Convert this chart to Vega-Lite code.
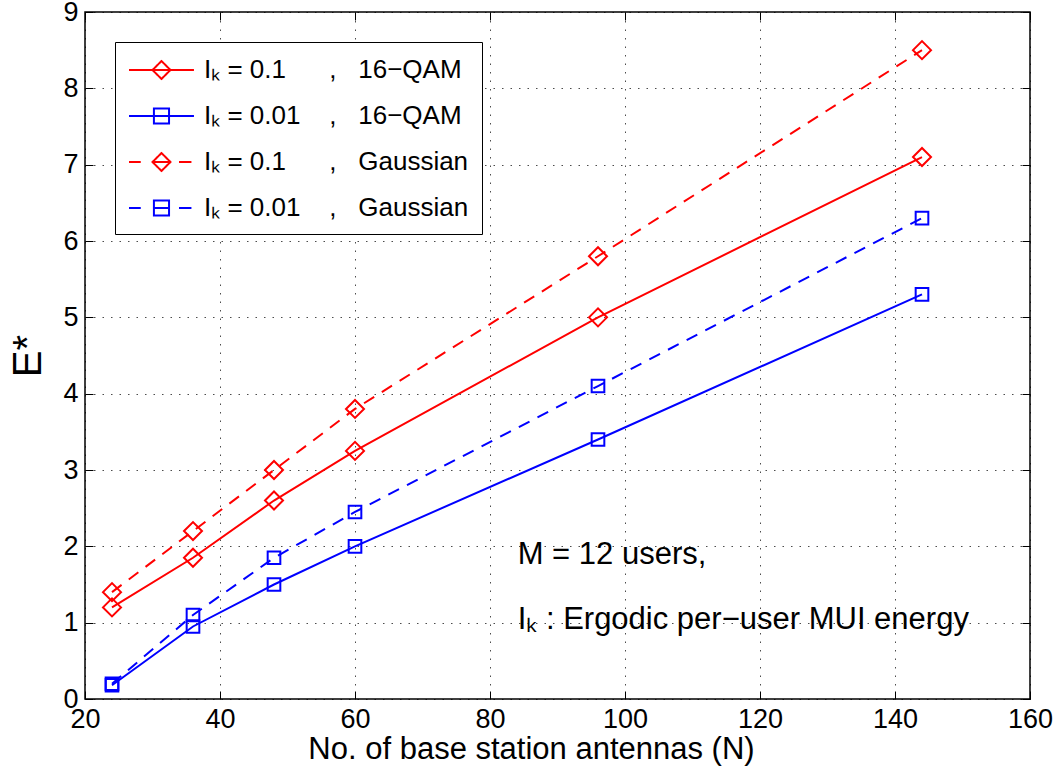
{
  "$schema": "https://vega.github.io/schema/vega-lite/v6.json",
  "width": 945,
  "height": 687,
  "autosize": {"type": "none"},
  "padding": {"left": 85, "top": 12, "right": 28, "bottom": 73},
  "background": "white",
  "config": {
    "font": "Liberation Sans",
    "view": {"stroke": "black", "strokeWidth": 1.5},
    "axis": {
      "labelFont": "Liberation Sans",
      "labelFontSize": 27,
      "labelColor": "black",
      "labelFlush": false,
      "titleFont": "Liberation Sans",
      "titleFontWeight": "normal",
      "titleColor": "black",
      "domain": false,
      "tickColor": "black",
      "tickWidth": 1,
      "tickSize": -8,
      "gridColor": "black",
      "gridOpacity": 0.7,
      "gridDash": [1.5, 7],
      "gridWidth": 1
    }
  },
  "datasets": {
    "curves": [
      {"series": "s1", "N": 24, "E": 1.2},
      {"series": "s1", "N": 36, "E": 1.85},
      {"series": "s1", "N": 48, "E": 2.6},
      {"series": "s1", "N": 60, "E": 3.25},
      {"series": "s1", "N": 96, "E": 5.0},
      {"series": "s1", "N": 144, "E": 7.1},
      {"series": "s2", "N": 24, "E": 0.18},
      {"series": "s2", "N": 36, "E": 0.95},
      {"series": "s2", "N": 48, "E": 1.5},
      {"series": "s2", "N": 60, "E": 2.0},
      {"series": "s2", "N": 96, "E": 3.4},
      {"series": "s2", "N": 144, "E": 5.3},
      {"series": "s3", "N": 24, "E": 1.4},
      {"series": "s3", "N": 36, "E": 2.2},
      {"series": "s3", "N": 48, "E": 3.0},
      {"series": "s3", "N": 60, "E": 3.8},
      {"series": "s3", "N": 96, "E": 5.8},
      {"series": "s3", "N": 144, "E": 8.5},
      {"series": "s4", "N": 24, "E": 0.2},
      {"series": "s4", "N": 36, "E": 1.1},
      {"series": "s4", "N": 48, "E": 1.85},
      {"series": "s4", "N": 60, "E": 2.45},
      {"series": "s4", "N": 96, "E": 4.1},
      {"series": "s4", "N": 144, "E": 6.3}
    ],
    "notes": [
      {"label": "M = 12 users,", "N": 84.1, "E": 1.89},
      {"label": "Iₖ : Ergodic per−user MUI energy", "N": 84.1, "E": 1.03}
    ]
  },
  "resolve": {"axis": {"x": "independent", "y": "independent"}},
  "layer": [
    {
      "data": {"name": "curves"},
      "transform": [{"filter": "datum.series == 's1' || datum.series == 's2'"}],
      "mark": {"type": "line", "strokeWidth": 2},
      "encoding": {
        "x": {"field": "N", "type": "quantitative", "scale": {"domain": [20, 160], "nice": false}, "axis": {"values": [20, 40, 60, 80, 100, 120, 140, 160], "title": "No. of base station antennas (N)", "titleFontSize": 31, "titlePadding": 2, "titleX": 446, "titleAlign": "center", "labelPadding": 15, "grid": true, "orient": "bottom"}},
        "y": {"field": "E", "type": "quantitative", "scale": {"domain": [0, 9], "nice": false}, "axis": {"values": [0, 1, 2, 3, 4, 5, 6, 7, 8, 9], "title": "E*", "titleFontSize": 40, "titlePadding": 14, "labelPadding": 15, "grid": true, "orient": "left"}},
        "color": {
          "field": "series", "type": "nominal",
          "scale": {"domain": ["s1", "s2", "s3", "s4"], "range": ["#ff0000", "#0000ff", "#ff0000", "#0000ff"]},
          "legend": {
            "orient": "top-left",
            "offset": 30,
            "title": null,
            "padding": 13,
            "strokeColor": "black",
            "fillColor": "white",
            "symbolSize": 784,
            "symbolStrokeWidth": 2,
            "symbolFillColor": "transparent",
            "symbolDash": [1, 0],
            "labelFont": "Liberation Sans",
            "labelFontSize": 26,
            "labelColor": "black",
            "labelOffset": 46,
            "labelLimit": 0,
            "rowPadding": 18,
            "labelExpr": "datum.value == 's1' ? 'Iₖ = 0.1\u00a0\u00a0\u00a0\u00a0\u00a0\u00a0,\u00a0\u00a0\u00a016−QAM' : datum.value == 's2' ? 'Iₖ = 0.01\u00a0\u00a0\u00a0\u00a0,\u00a0\u00a0\u00a016−QAM' : datum.value == 's3' ? 'Iₖ = 0.1\u00a0\u00a0\u00a0\u00a0\u00a0\u00a0,\u00a0\u00a0\u00a0Gaussian' : 'Iₖ = 0.01\u00a0\u00a0\u00a0\u00a0,\u00a0\u00a0\u00a0Gaussian'",
            "encode": {
              "symbols": {
                "update": {
                  "shape": {"signal": "datum.value == 's1' ? 'M-1,0H3.64M1.32,-0.64L1.96,0L1.32,0.64L0.68,0Z' : datum.value == 's2' ? 'M-1,0H3.64M0.78,-0.54H1.86V0.54H0.78Z' : datum.value == 's3' ? 'M-1,0H-0.16M0.68,0H1.96M2.57,0H3.46M1.32,-0.64L1.96,0L1.32,0.64L0.68,0Z' : 'M-1,0H-0.16M0.78,0H1.86M2.57,0H3.46M0.78,-0.54H1.86V0.54H0.78Z'"}
                }
              }
            }
          }
        }
      }
    },
    {
      "data": {"name": "curves"},
      "transform": [{"filter": "datum.series == 's3' || datum.series == 's4'"}],
      "mark": {"type": "line", "strokeWidth": 2, "strokeDash": [12, 9]},
      "encoding": {
        "x": {"field": "N", "type": "quantitative", "axis": null},
        "y": {"field": "E", "type": "quantitative", "axis": null},
        "color": {"field": "series", "type": "nominal"}
      }
    },
    {
      "data": {"name": "curves"},
      "transform": [{"filter": "datum.series == 's1' || datum.series == 's3'"}],
      "mark": {"type": "point", "shape": "diamond", "size": 324, "filled": false, "strokeWidth": 2, "opacity": 1},
      "encoding": {
        "x": {"field": "N", "type": "quantitative", "axis": {"values": [20, 40, 60, 80, 100, 120, 140, 160], "labels": false, "title": null, "grid": false, "orient": "top"}},
        "y": {"field": "E", "type": "quantitative", "axis": {"values": [0, 1, 2, 3, 4, 5, 6, 7, 8, 9], "labels": false, "title": null, "grid": false, "orient": "right"}},
        "color": {"field": "series", "type": "nominal"}
      }
    },
    {
      "data": {"name": "curves"},
      "transform": [{"filter": "datum.series == 's2' || datum.series == 's4'"}],
      "mark": {"type": "point", "shape": "square", "size": 160, "filled": false, "strokeWidth": 2, "opacity": 1},
      "encoding": {
        "x": {"field": "N", "type": "quantitative", "axis": null},
        "y": {"field": "E", "type": "quantitative", "axis": null},
        "color": {"field": "series", "type": "nominal"}
      }
    },
    {
      "data": {"name": "notes"},
      "mark": {"type": "text", "align": "left", "baseline": "middle", "font": "Liberation Sans", "fontSize": 31, "color": "black"},
      "encoding": {
        "x": {"field": "N", "type": "quantitative", "axis": null},
        "y": {"field": "E", "type": "quantitative", "axis": null},
        "text": {"field": "label"}
      }
    }
  ]
}
